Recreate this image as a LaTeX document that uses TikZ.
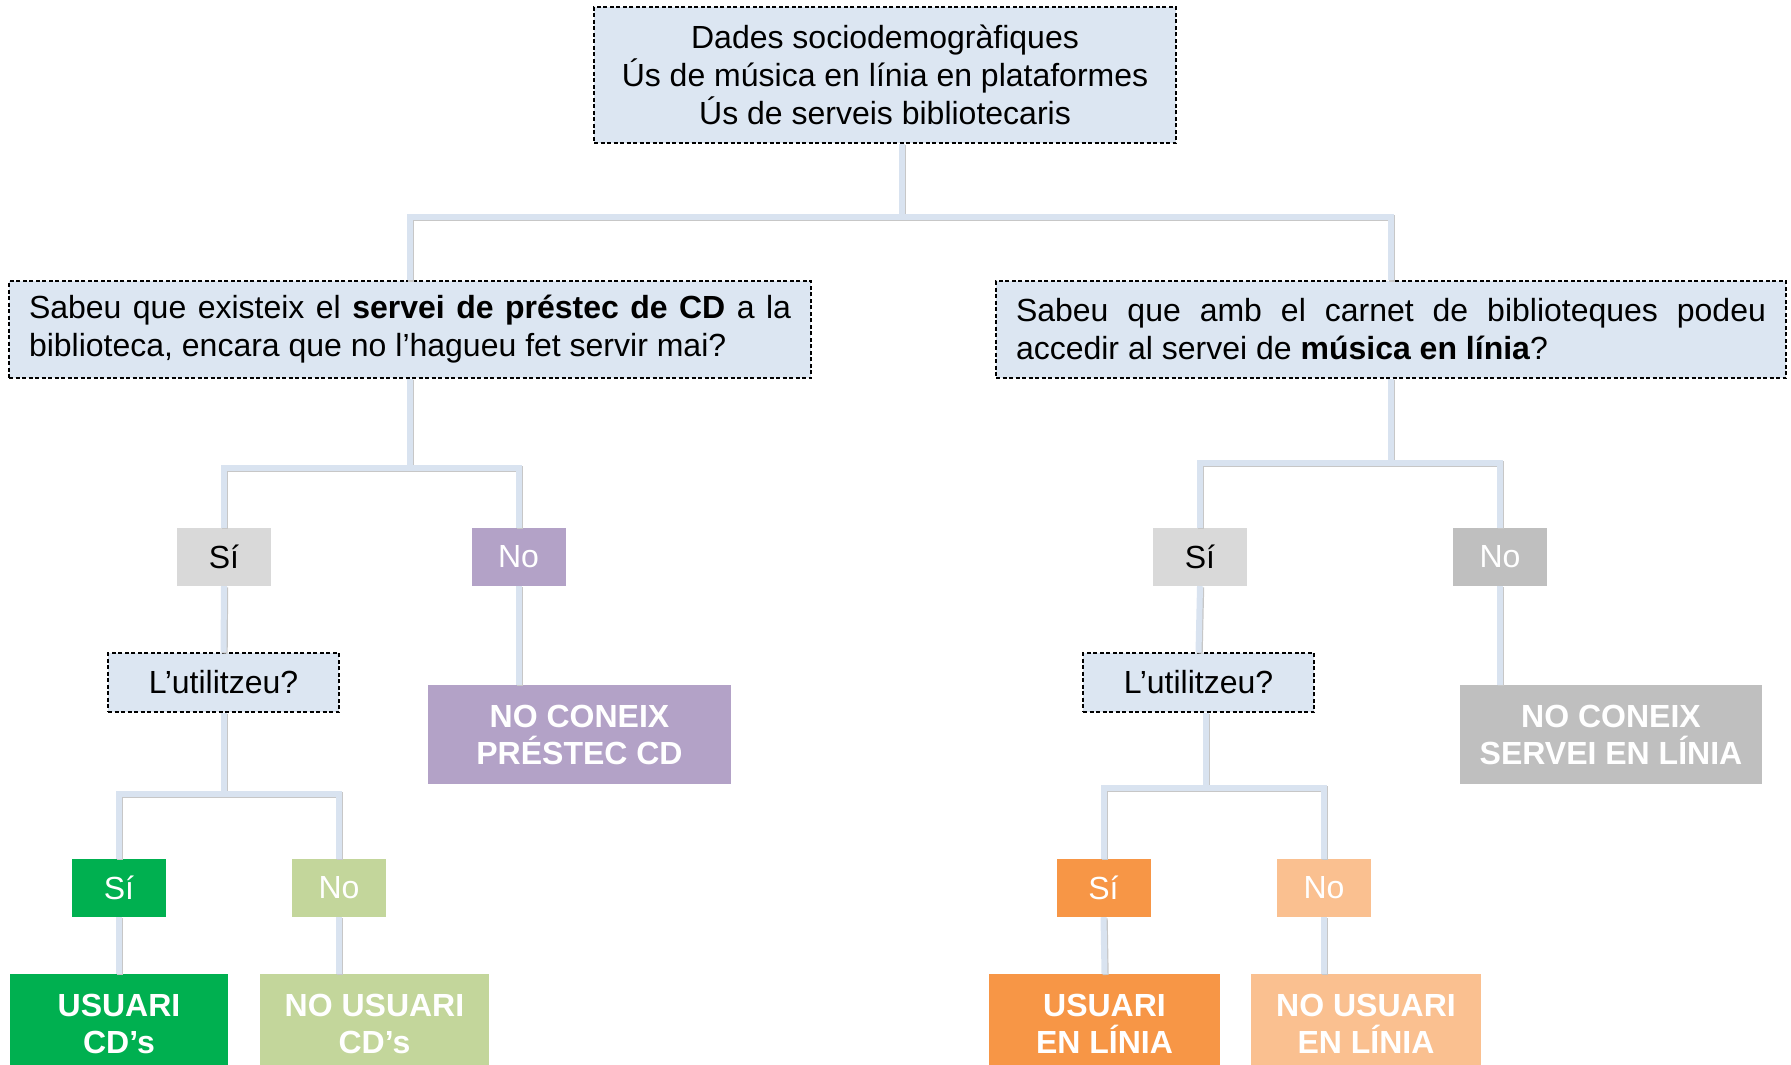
\documentclass[tikz,border=0pt]{standalone}
\usepackage{fontspec}
\setmainfont{Liberation Sans}
\setlength{\parindent}{0pt}
\definecolor{qblue}{HTML}{DCE6F2}
\definecolor{connblue}{HTML}{D9E3F0}
\definecolor{sigray}{HTML}{D9D9D9}
\definecolor{nogray}{HTML}{BFBFBF}
\definecolor{lilac}{HTML}{B3A2C7}
\definecolor{cdgreen}{HTML}{00B050}
\definecolor{palegreen}{HTML}{C3D69B}
\definecolor{liniaorange}{HTML}{F79646}
\definecolor{paleorange}{HTML}{FAC090}
\begin{document}
\begin{tikzpicture}[x=1pt, y=-1pt,
    every node/.style={font=\fontsize{32}{38}\selectfont, inner sep=0pt, align=center},
    askbox/.style={fill=qblue, draw=black, line width=1.4pt, dash pattern=on 4pt off 2.5pt},
    answer/.style={minimum width=94pt, minimum height=58pt},
    result/.style={minimum height=99pt, text=white, font=\fontsize{32}{37}\selectfont\bfseries},
    conn/.style={draw=connblue, line width=6pt,
      preaction={draw=black!22, line width=6pt, transform canvas={xshift=1.2pt, yshift=-1.2pt}}}]
    \path[use as bounding box, clip] (0,0) rectangle (1791,1065);
    % questions
    \node [askbox, minimum width=582pt, minimum height=136pt] (dades) at (885,75)
      {Dades sociodemogràfiques\\Ús de música en línia en plataformes\\Ús de serveis bibliotecaris};
    \node [askbox, minimum width=802pt, minimum height=97pt, text width=762pt, align=justify] (cd) at (410,329.5)
      {Sabeu que existeix el \textbf{servei de préstec de CD} a la\linebreak biblioteca, encara que no l’hagueu fet servir mai?};
    \node [askbox, minimum width=790pt, minimum height=97pt, text width=750pt, align=justify] (mus) at (1391,329.5)
      {Sabeu que amb el carnet de biblioteques podeu\linebreak accedir al servei de \textbf{música en línia}?};
    % left branch
    \node [answer, fill=sigray] (si1) at (224,557) {Sí};
    \node [answer, fill=lilac, text=white] (no1) at (518.5,557) {No};
    \node [askbox, minimum width=231pt, minimum height=59pt] (lu1) at (223.5,682.5) {L’utilitzeu?};
    \node [result, fill=lilac, minimum width=303pt] (nc1) at (579.5,734.5) {NO CONEIX\\PRÉSTEC CD};
    \node [answer, fill=cdgreen, text=white] (sia) at (119,888) {Sí};
    \node [answer, fill=palegreen, text=white] (noa) at (339,888) {No};
    \node [result, fill=cdgreen, minimum width=218pt] (ua) at (119,1023.5) {USUARI\\CD’s};
    \node [result, fill=palegreen, minimum width=229pt] (nua) at (374.5,1023.5) {NO USUARI\\CD’s};
    % right branch
    \node [answer, fill=sigray] (si2) at (1200,557) {Sí};
    \node [answer, fill=nogray, text=white] (no2) at (1500,557) {No};
    \node [askbox, minimum width=231pt, minimum height=59pt] (lu2) at (1198.5,682.5) {L’utilitzeu?};
    \node [result, fill=nogray, minimum width=302pt] (nc2) at (1611,734.5) {NO CONEIX\\SERVEI EN LÍNIA};
    \node [answer, fill=liniaorange, text=white] (sib) at (1103.5,888) {Sí};
    \node [answer, fill=paleorange, text=white] (nob) at (1324,888) {No};
    \node [result, fill=liniaorange, minimum width=231pt] (ub) at (1104.5,1023.5) {USUARI\\EN LÍNIA};
    \node [result, fill=paleorange, minimum width=230pt] (nub) at (1366,1023.5) {NO USUARI\\EN LÍNIA};
    % connectors
    \coordinate (b0) at (902,217);
    \coordinate (b1) at (410,468);
    \coordinate (b2) at (223.5,794);
    \coordinate (b3) at (1391,463);
    \coordinate (b4) at (1206,788);
    \draw[conn] (b0 |- dades.south) -- (b0);
    \draw[conn] (cd.north) |- (b0) -| (mus.north);
    \draw[conn] (cd.south) -- (b1);
    \draw[conn] (si1.north) |- (b1) -| (no1.north);
    \draw[conn] (si1.south) -- (lu1.north);
    \draw[conn] (no1.south) -- (no1.south |- nc1.north);
    \draw[conn] (lu1.south) -- (b2);
    \draw[conn] (sia.north) |- (b2) -| (noa.north);
    \draw[conn] (sia.south) -- (ua.north);
    \draw[conn] (noa.south) -- (noa.south |- nua.north);
    \draw[conn] (mus.south) -- (b3);
    \draw[conn] (si2.north) |- (b3) -| (no2.north);
    \draw[conn] (si2.south) -- (lu2.north);
    \draw[conn] (no2.south) -- (no2.south |- nc2.north);
    \draw[conn] (b4 |- lu2.south) -- (b4);
    \draw[conn] (sib.north) |- (b4) -| (nob.north);
    \draw[conn] (sib.south) -- (ub.north);
    \draw[conn] (nob.south) -- (nob.south |- nub.north);
\end{tikzpicture}
\end{document}
